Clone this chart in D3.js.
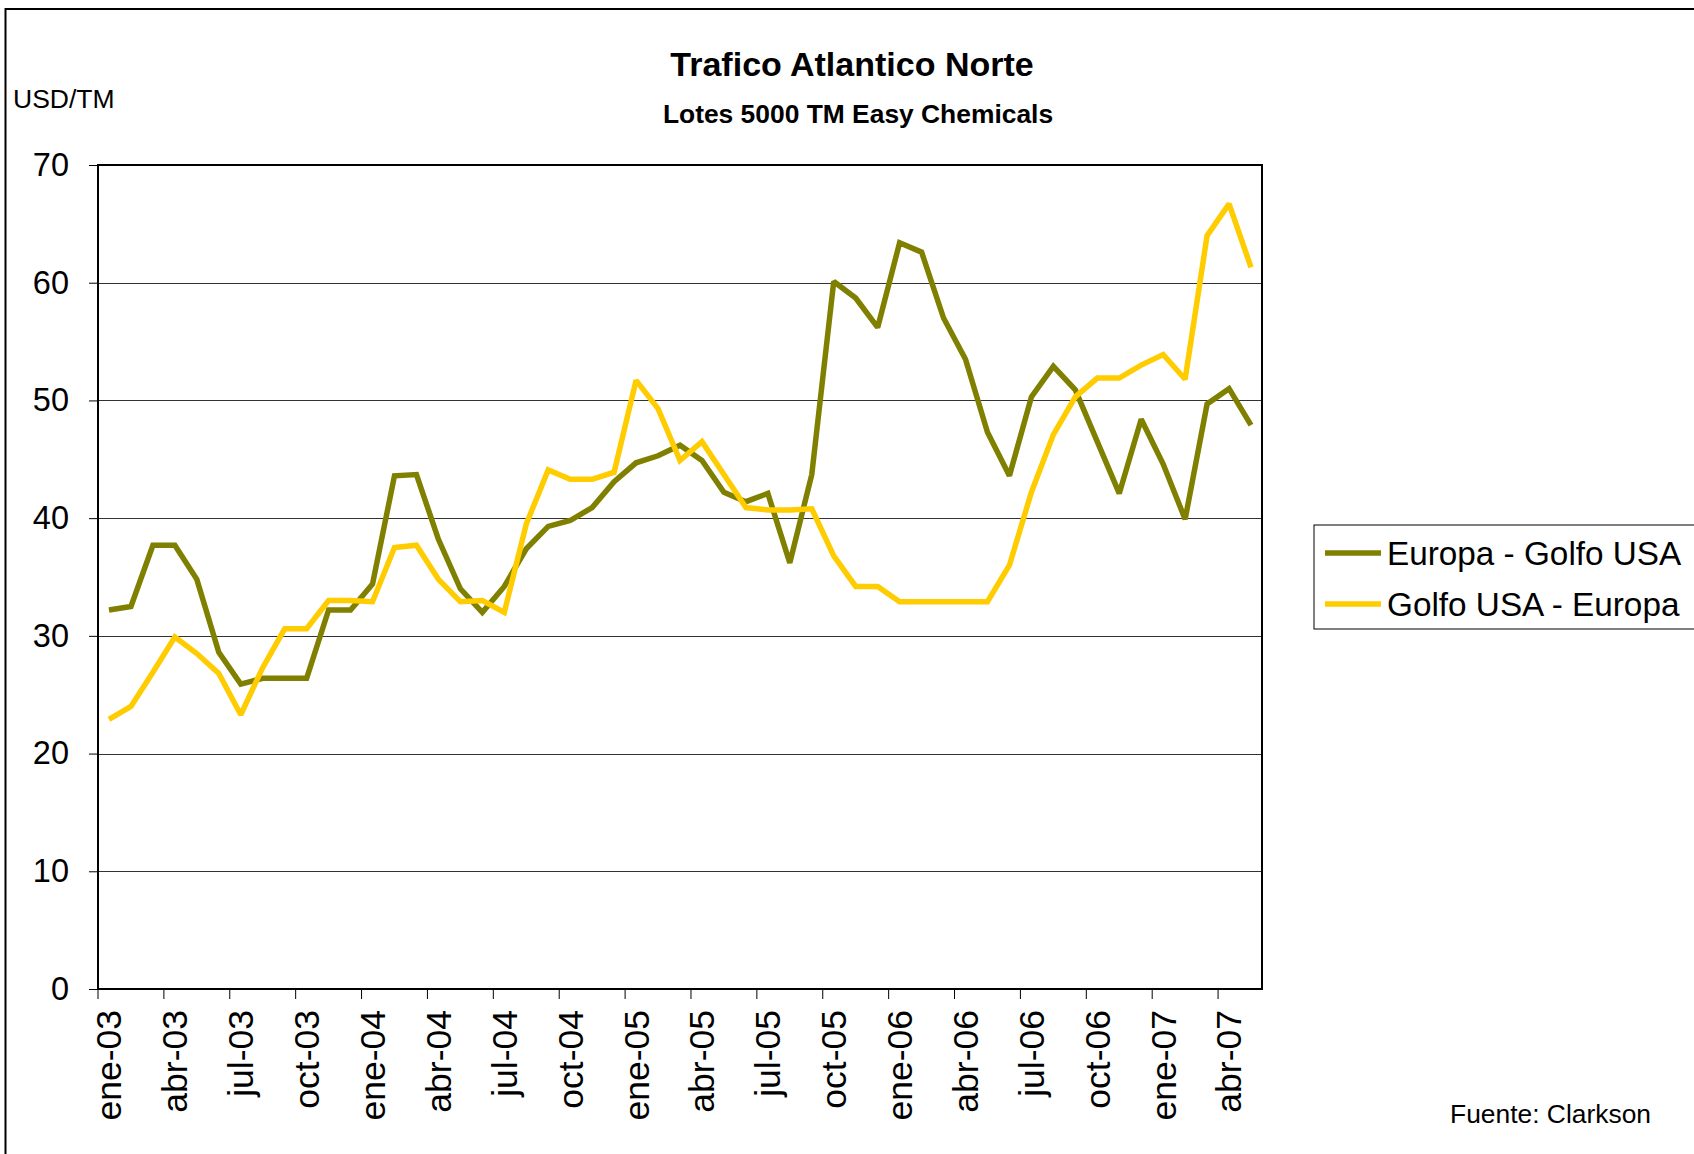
<!DOCTYPE html>
<html>
<head>
<meta charset="utf-8">
<script src="https://cdn.jsdelivr.net/npm/d3@7"></script>
<style>
  body { margin: 0; background: #fff; }
  text { font-family: "Liberation Sans", Arial, sans-serif; fill: #000; }
</style>
</head>
<body>
<div id="chart"></div>
<script>
const months = [
    "ene-03", "feb-03", "mar-03", "abr-03", "may-03", "jun-03", "jul-03", "ago-03", "sep-03", "oct-03", "nov-03", "dic-03",
    "ene-04", "feb-04", "mar-04", "abr-04", "may-04", "jun-04", "jul-04", "ago-04", "sep-04", "oct-04", "nov-04", "dic-04",
    "ene-05", "feb-05", "mar-05", "abr-05", "may-05", "jun-05", "jul-05", "ago-05", "sep-05", "oct-05", "nov-05", "dic-05",
    "ene-06", "feb-06", "mar-06", "abr-06", "may-06", "jun-06", "jul-06", "ago-06", "sep-06", "oct-06", "nov-06", "dic-06",
    "ene-07", "feb-07", "mar-07", "abr-07", "may-07"
];

// Europa - Golfo USA
const europaGolfo = [
    32.2, 32.5, 37.7, 37.7, 34.8, 28.6, 25.9, 26.4, 26.4, 26.4, 32.2, 32.2,
    34.4, 43.6, 43.7, 38.2, 34.0, 32.0, 34.2, 37.4, 39.3, 39.8, 40.9, 43.1,
    44.7, 45.3, 46.2, 44.9, 42.2, 41.4, 42.1, 36.2, 43.7, 60.1, 58.7, 56.2,
    63.4, 62.6, 57.0, 53.5, 47.3, 43.6, 50.3, 52.9, 50.9, 46.5, 42.1, 48.4,
    44.6, 39.9, 49.7, 51.0, 47.9
];

// Golfo USA - Europa
const golfoEuropa = [
    22.9, 24.0, 26.9, 29.9, 28.5, 26.8, 23.3, 27.3, 30.6, 30.6, 33.0, 33.0,
    32.9, 37.5, 37.7, 34.8, 32.9, 33.0, 32.0, 39.5, 44.1, 43.3, 43.3, 43.9,
    51.7, 49.3, 44.9, 46.5, 43.7, 40.9, 40.7, 40.7, 40.8, 36.8, 34.2, 34.2,
    32.9, 32.9, 32.9, 32.9, 32.9, 36.0, 42.2, 47.1, 50.3, 51.9, 51.9, 53.0,
    53.9, 51.8, 64.0, 66.7, 61.3
];

const seriesNames = ["Europa - Golfo USA", "Golfo USA - Europa"];
const seriesColors = ["#808000", "#FFCC00"];
const yTicks = [0, 10, 20, 30, 40, 50, 60, 70];

const W = 1694, H = 1154;
const plot = {left: 98, right: 1262, top: 165, bottom: 989};

const svg = d3.select("#chart")
    .append("svg")
        .attr("width", W)
        .attr("height", H);

// outer frame (runs off the right and bottom edges)
svg.append("rect")
    .attr("x", 5.5)
    .attr("y", 9)
    .attr("width", W + 20)
    .attr("height", H + 20)
    .attr("fill", "none")
    .attr("stroke", "#000")
    .attr("stroke-width", 2);

// scales
const x = d3.scaleBand()
    .domain(months)
    .range([plot.left, plot.right])
    .padding(0);
const y = d3.scaleLinear()
    .domain([0, 70])
    .range([plot.bottom, plot.top]);

// gridlines
svg.append("g")
    .selectAll("line")
    .data(yTicks.filter(v => v > 0 && v < 70))
    .join("line")
        .attr("x1", plot.left)
        .attr("x2", plot.right)
        .attr("y1", d => Math.round(y(d)) + 0.5)
        .attr("y2", d => Math.round(y(d)) + 0.5)
        .attr("stroke", "#333")
        .attr("stroke-width", 1);

// y axis
svg.append("g")
    .attr("transform", `translate(${plot.left},0)`)
    .call(d3.axisLeft(y)
        .tickValues(yTicks)
        .tickSize(9)
        .tickPadding(20))
    .call(g => g.select(".domain").remove())
    .call(g => g.selectAll(".tick line").attr("stroke", "#000"))
    .call(g => g.selectAll(".tick text")
        .attr("font-size", "32.5px")
        .attr("font-family", "Liberation Sans, Arial, sans-serif"));

// plot box
svg.append("rect")
    .attr("x", plot.left)
    .attr("y", plot.top)
    .attr("width", plot.right - plot.left)
    .attr("height", plot.bottom - plot.top)
    .attr("fill", "none")
    .attr("stroke", "#000")
    .attr("stroke-width", 2);

// x axis: ticks between categories every 3 months, labels centred on category
const xTickMonths = months.filter((m, i) => i % 3 === 0);
const xAxis = svg.append("g");
xAxis.selectAll("line")
    .data(xTickMonths)
    .join("line")
        .attr("x1", d => x(d))
        .attr("x2", d => x(d))
        .attr("y1", plot.bottom)
        .attr("y2", plot.bottom + 10)
        .attr("stroke", "#000")
        .attr("stroke-width", 1);
xAxis.selectAll("text")
    .data(xTickMonths)
    .join("text")
        .attr("transform", d => `translate(${x(d) + x.bandwidth() / 2},${plot.bottom + 21}) rotate(-90)`)
        .attr("text-anchor", "end")
        .attr("dy", "0.35em")
        .attr("font-size", "35.5px")
        .text(d => d);

// lines
const line = d3.line()
    .x((d, i) => x(months[i]) + x.bandwidth() / 2)
    .y(d => y(d));

[europaGolfo, golfoEuropa].forEach((s, k) => {
    svg.append("path")
        .attr("fill", "none")
        .attr("stroke", seriesColors[k])
        .attr("stroke-width", 5.5)
        .attr("stroke-linejoin", "miter")
        .attr("stroke-miterlimit", 2)
        .attr("d", line(s));
});

// titles
svg.append("text")
    .attr("x", 852)
    .attr("y", 76)
    .attr("text-anchor", "middle")
    .attr("font-size", "34px")
    .attr("font-weight", "bold")
    .text("Trafico Atlantico Norte");
svg.append("text")
    .attr("x", 858)
    .attr("y", 123)
    .attr("text-anchor", "middle")
    .attr("font-size", "26.4px")
    .attr("font-weight", "bold")
    .text("Lotes 5000 TM Easy Chemicals");
svg.append("text")
    .attr("x", 13)
    .attr("y", 108)
    .attr("font-size", "26.5px")
    .text("USD/TM");

// legend
const legend = svg.append("g");
legend.append("rect")
    .attr("x", 1314)
    .attr("y", 525)
    .attr("width", 420)
    .attr("height", 104)
    .attr("fill", "#fff")
    .attr("stroke", "#000")
    .attr("stroke-width", 1);
seriesNames.forEach((name, k) => {
    const cy = 553 + k * 51;
    legend.append("line")
        .attr("x1", 1325)
        .attr("x2", 1381)
        .attr("y1", cy)
        .attr("y2", cy)
        .attr("stroke", seriesColors[k])
        .attr("stroke-width", 5.5);
    legend.append("text")
        .attr("x", 1387)
        .attr("y", cy)
        .attr("dy", "0.35em")
        .attr("font-size", "33.3px")
        .text(name);
});

svg.append("text")
    .attr("x", 1651)
    .attr("y", 1123)
    .attr("text-anchor", "end")
    .attr("font-size", "26.4px")
    .text("Fuente: Clarkson");
</script>
</body>
</html>
